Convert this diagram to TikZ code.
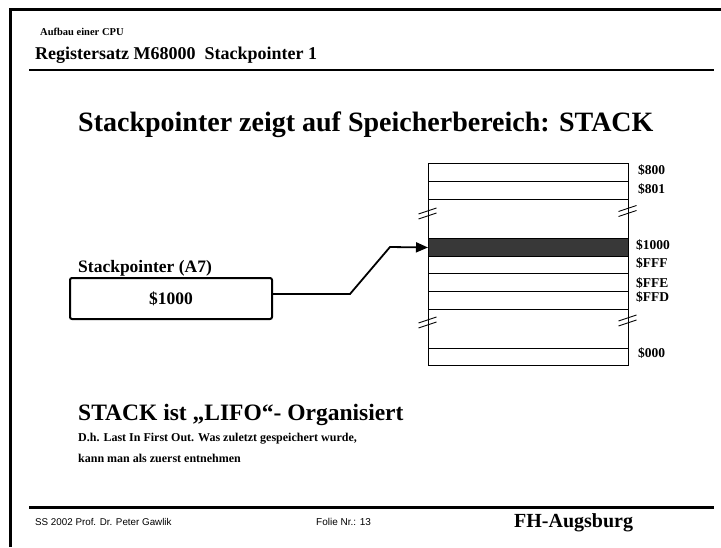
\documentclass[tikz,border=0pt]{standalone}
\usepackage{fontspec}
\setmainfont{Liberation Serif}
\newfontfamily\arialfont{Liberation Sans}
\usetikzlibrary{arrows.meta}

\tikzset{
  rule/.style={line width=2.6pt},
  txt/.style={inner sep=0pt, anchor=base west, font=\bfseries},
  cell/.style={draw, line width=1pt, minimum width=200pt, inner sep=0pt,
               anchor=north west},
  addr/.style={inner sep=0pt, anchor=west, font=\bfseries\fontsize{13.5}{14}\selectfont},
  conn/.style={line width=1.8pt, -{Triangle[length=12pt,width=10pt]}},
  brk/.pic={
    \draw[line width=0.9pt] (-9,5.5) -- (9,-0.5);
    \draw[line width=0.9pt] (-9,0.5) -- (9,-5.5);
  }
}

\begin{document}
\begin{tikzpicture}[x=1pt,y=-1pt]
\useasboundingbox (0,0) rectangle (721,547);

% slide frame and rules
\draw[line width=3pt] (10.5,547) -- (10.5,9) -- (721,9);
\draw[rule] (29,70) -- (714,70);
\draw[rule] (29,507.5) -- (714,507.5);

% header
\node[txt, font=\bfseries\fontsize{10.5}{11}\selectfont] (hdr1) at (40,35) {Aufbau einer CPU};
\node[txt, font=\bfseries\fontsize{18}{19}\selectfont] (hdr2) at (35,59) {Registersatz M68000\ \ Stackpointer 1};

% title
\node[txt, font=\bfseries\fontsize{28}{30}\selectfont] (title) at (78,131) {Stackpointer zeigt auf Speicherbereich: STACK};

% memory cells
\node[cell, minimum height=18pt] (c800)  at (428,163) {};
\node[cell, minimum height=18pt] (c801)  at (428,181) {};
\node[cell, minimum height=39pt] (gapA)  at (428,199) {};
\node[cell, minimum height=18pt, fill=black!78] (c1000) at (428,238) {};
\node[cell, minimum height=17pt] (cFFF)  at (428,256) {};
\node[cell, minimum height=18pt] (cFFE)  at (428,273) {};
\node[cell, minimum height=18pt] (cFFD)  at (428,291) {};
\node[cell, minimum height=39pt] (gapB)  at (428,309) {};
\node[cell, minimum height=17pt] (c000)  at (428,348) {};

% interruption marks
\pic at (427.5,213.5) {brk};
\pic at (627.5,211) {brk};
\pic at (427.5,322.5) {brk};
\pic at (627.5,320.5) {brk};

% addresses
\node[addr] (l800)  at (638,170.5) {\$800};
\node[addr] (l801)  at (638,189)   {\$801};
\node[addr] (l1000) at (636,245.5) {\$1000};
\node[addr] (lFFF)  at (636,263.5) {\$FFF};
\node[addr] (lFFE)  at (636,283.5) {\$FFE};
\node[addr] (lFFD)  at (636,297)   {\$FFD};
\node[addr] (l000)  at (638,353)   {\$000};

% stack pointer register
\node[txt, font=\bfseries\fontsize{17.5}{18}\selectfont] (splab) at (78,272.5) {Stackpointer (A7)};
\node[draw, line width=2pt, rounded corners=2pt, minimum width=202pt,
      minimum height=41pt, inner sep=0pt, font=\bfseries\fontsize{17.5}{18}\selectfont]
      (sp) at (171,298.5) {\$1000};

\coordinate (k1) at (350,294);
\coordinate (k2) at (390,247);
\draw[conn] (sp.east |- k1) -- (k1) -- (k2) -- (c1000.west);

% LIFO text
\node[txt, font=\bfseries\fontsize{23.5}{25}\selectfont] (lifo) at (78,420.5) {STACK ist „LIFO“- Organisiert};
\node[txt, font=\bfseries\fontsize{12}{13}\selectfont] (exp1) at (78,441.5) {D.h. Last In First Out. Was zuletzt gespeichert wurde,};
\node[txt, font=\bfseries\fontsize{12}{13}\selectfont] (exp2) at (78,462.5) {kann man als zuerst entnehmen};

% footer
\node[inner sep=0pt, anchor=base west, font=\arialfont\fontsize{9.8}{10}\selectfont] (ft1) at (35,525.5) {SS 2002 Prof. Dr. Peter Gawlik};
\node[inner sep=0pt, anchor=base west, font=\arialfont\fontsize{10}{10}\selectfont] (ft2) at (316,525.5) {Folie Nr.: 13};
\node[txt, font=\bfseries\fontsize{20}{20}\selectfont] (ft3) at (514,527.5) {FH-Augsburg};
\end{tikzpicture}
\end{document}
